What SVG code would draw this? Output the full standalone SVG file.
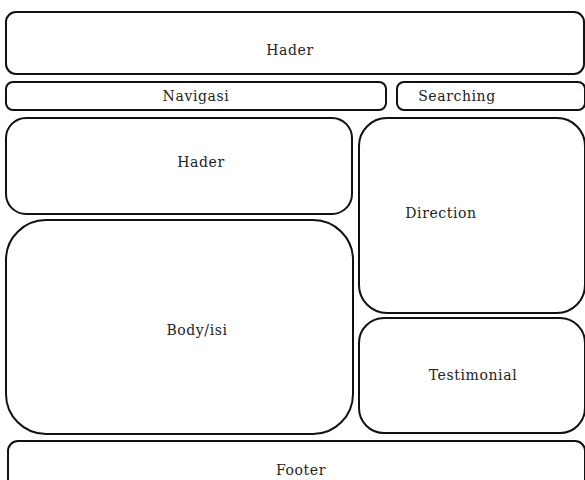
<svg xmlns="http://www.w3.org/2000/svg" width="585" height="480" viewBox="0 0 585 480">
<style>
.b{fill:#fff;stroke:#111;stroke-width:2}
.t{font-family:"DejaVu Serif","Liberation Serif",serif;font-size:14px;letter-spacing:0.6px;fill:#222;text-anchor:middle;dominant-baseline:central}
</style>
<rect width="585" height="480" fill="#fff"/>
<g id="header"><rect class="b" x="6" y="12" width="578" height="62" rx="10"/><text class="t" x="290" y="50">Hader</text></g>
<g id="navigasi"><rect class="b" x="6" y="82" width="380" height="28" rx="7"/><text class="t" x="196" y="96">Navigasi</text></g>
<g id="searching"><rect class="b" x="397" y="82" width="188" height="28" rx="7"/><text class="t" x="457" y="96">Searching</text></g>
<g id="hader2"><rect class="b" x="6" y="118" width="346" height="96" rx="20"/><text class="t" x="201" y="162">Hader</text></g>
<g id="body"><rect class="b" x="6" y="220" width="347" height="214" rx="40"/><text class="t" x="197" y="330">Body/isi</text></g>
<g id="direction"><rect class="b" x="359" y="118" width="226" height="195" rx="28"/><text class="t" x="441" y="213">Direction</text></g>
<g id="testimonial"><rect class="b" x="359" y="318" width="226" height="115" rx="25"/><text class="t" x="473" y="375">Testimonial</text></g>
<g id="footer"><rect class="b" x="8" y="441" width="577" height="60" rx="10"/><text class="t" x="301" y="470">Footer</text></g>
<g id="connectors"/>
</svg>
